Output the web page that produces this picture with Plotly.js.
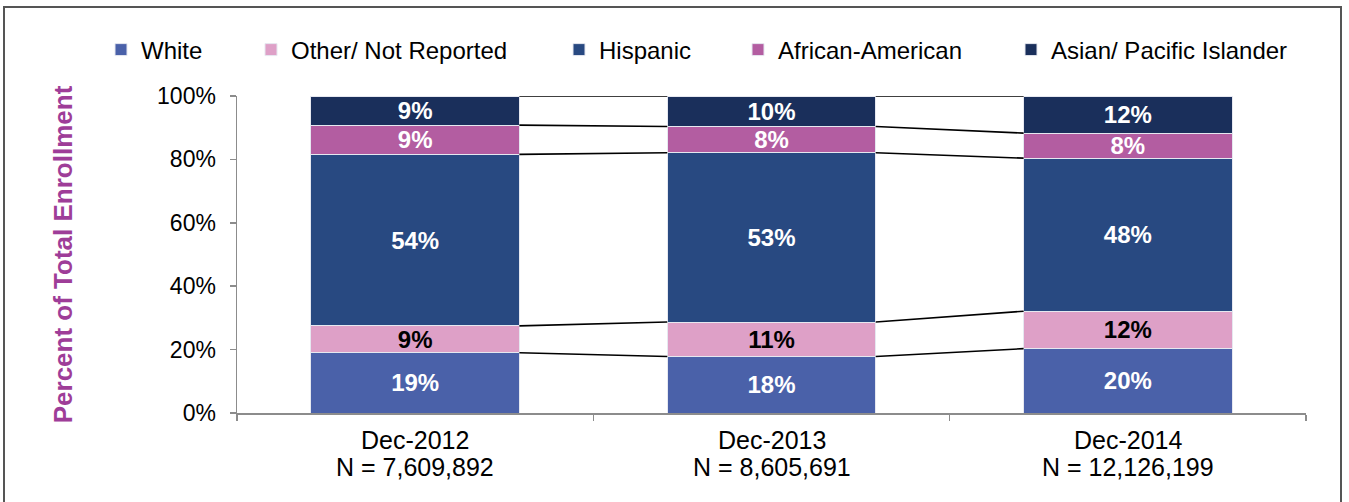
<!DOCTYPE html>
<html>
<head>
<meta charset="utf-8">
<script src="https://cdn.plot.ly/plotly-3.0.1.min.js"></script>
<style>html,body{margin:0;padding:0;background:#fff;}#chart{width:1349px;height:502px;}</style>
</head>
<body>
<div id="chart"></div>
<script>
// ---- Data ----
var categories = ["Dec-2012", "Dec-2013", "Dec-2014"];
var totals = ["N = 7,609,892", "N = 8,605,691", "N = 12,126,199"];
var seriesNames = ["White", "Other/ Not Reported", "Hispanic", "African-American", "Asian/ Pacific Islander"];
var white    = [19.0, 17.8, 20.3];
var other    = [8.5, 10.9, 11.8];
var hispanic = [54.1, 53.4, 48.3];
var africanAmerican = [9.2, 8.3, 7.9];
var asianPacific    = [9.2, 9.6, 11.7];
var yTicks = [0, 20, 40, 60, 80, 100];
var yTickLabels = ["0%", "20%", "40%", "60%", "80%", "100%"];

// ---- Style ----
var FONT = "Liberation Sans, Arial, sans-serif";
var colors = ["#4A61A9", "#DEA0C7", "#284981", "#B35DA1", "#1A2F5B"];
var labelColors = ["#ffffff", "#000000", "#ffffff", "#ffffff", "#ffffff"];
var barWidth = 0.585;
var M = {l: 237, r: 43, t: 96, b: 89};
var W = 1349, H = 502;
var pw = W - M.l - M.r, ph = H - M.t - M.b;
function px2x(p) { return (p - M.l) / pw; }
function px2y(p) { return (H - M.b - p) / ph; }

var series = [white, other, hispanic, africanAmerican, asianPacific];
var xIdx = categories.map(function (c, i) { return i; });

var legendTextStarts = [141, 291, 599, 778, 1051];
var traces = [];
var layout = {
  width: W, height: H,
  margin: M,
  barmode: "stack",
  paper_bgcolor: "#ffffff",
  plot_bgcolor: "#ffffff",
  font: {family: FONT, color: "#000000"},
  hovermode: false,
  xaxis: {
    range: [-0.5, categories.length - 0.5],
    tickmode: "array",
    tickvals: [-0.5].concat(xIdx.map(function (i) { return i + 0.5; })),
    showticklabels: false,
    ticks: "outside", ticklen: 6, tickcolor: "#8c8c8c", tickwidth: 1.5,
    showline: true, linecolor: "#8c8c8c", linewidth: 1.5,
    showgrid: false, zeroline: false, fixedrange: true
  },
  yaxis: {
    range: [0, 100],
    tickmode: "array",
    tickvals: yTicks,
    ticktext: yTickLabels,
    ticks: "outside", ticklen: 6, tickcolor: "#8c8c8c", tickwidth: 1.5,
    ticklabelstandoff: 9,
    showline: true, linecolor: "#8c8c8c", linewidth: 1.5,
    showgrid: false, zeroline: false, fixedrange: true,
    tickfont: {family: FONT, size: 23, color: "#000000"},
    title: {text: "Percent of Total Enrollment", standoff: 77,
            font: {family: FONT, size: 26, color: "#9E3D98", weight: "bold"}}
  },
  annotations: [],
  shapes: [{
    type: "rect", xref: "paper", yref: "paper",
    x0: px2x(4), x1: px2x(1341), y0: px2y(530), y1: px2y(7),
    line: {color: "#555555", width: 2}, fillcolor: "rgba(0,0,0,0)", layer: "below"
  }]
};

series.forEach(function (vals, s) {
  var lg = s === 0 ? "legend" : "legend" + (s + 1);
  traces.push({
    type: "bar",
    name: seriesNames[s],
    x: xIdx,
    y: vals,
    width: barWidth,
    marker: {color: colors[s], line: {color: "#e6e8f0", width: 1}},
    texttemplate: "%{y:.0f}%",
    textposition: "inside",
    insidetextanchor: "middle",
    constraintext: "none",
    textangle: 0,
    textfont: {family: FONT, size: 24, color: labelColors[s], weight: "bold"},
    legend: lg,
    hoverinfo: "skip"
  });
  layout[lg] = {
    orientation: "h",
    x: px2x(legendTextStarts[s] - 40), xanchor: "left",
    y: px2y(50), yanchor: "middle",
    bgcolor: "rgba(0,0,0,0)", borderwidth: 0,
    font: {family: FONT, size: 24, color: "#000000"}
  };
});

// Connector lines between bars at each cumulative boundary
var cum = [];
var run = xIdx.map(function () { return 0; });
series.forEach(function (vals) {
  run = run.map(function (r, i) { return r + vals[i]; });
  cum.push(run.slice());
});
var lx = [], ly = [];
cum.forEach(function (level) {
  for (var i = 0; i < xIdx.length - 1; i++) {
    lx.push(xIdx[i] + barWidth / 2, xIdx[i + 1] - barWidth / 2, null);
    ly.push(level[i], level[i + 1], null);
  }
});
traces.push({
  type: "scatter", mode: "lines", x: lx, y: ly,
  line: {color: "#000000", width: 1.6},
  showlegend: false, hoverinfo: "skip", connectgaps: false
});

// Category labels (two lines)
xIdx.forEach(function (i) {
  layout.annotations.push({
    x: i, xref: "x", y: px2y(440), yref: "paper", yanchor: "middle",
    text: categories[i], showarrow: false,
    font: {family: FONT, size: 25, color: "#000000"}
  });
  layout.annotations.push({
    x: i, xref: "x", y: px2y(467), yref: "paper", yanchor: "middle",
    text: totals[i], showarrow: false,
    font: {family: FONT, size: 25, color: "#000000"}
  });
});

Plotly.newPlot("chart", traces, layout, {displayModeBar: false, staticPlot: true});
</script>
</body>
</html>
